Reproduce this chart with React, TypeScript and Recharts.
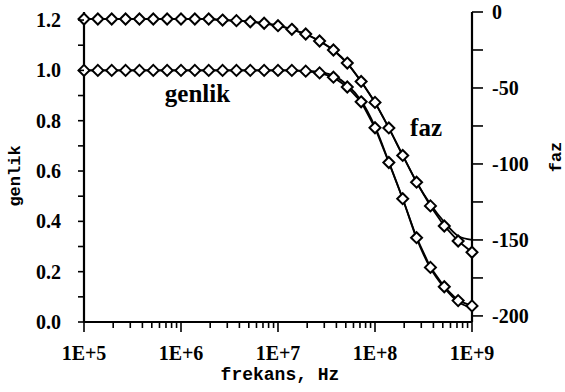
import { LineChart, Line, XAxis, YAxis, ReferenceDot } from 'recharts';

// frekans noktaları (Hz), her on katta 7 nokta
const frekans = [
  1.0e5, 1.389e5, 1.931e5, 2.683e5, 3.728e5, 5.179e5, 7.197e5,
  1.0e6, 1.389e6, 1.931e6, 2.683e6, 3.728e6, 5.179e6, 7.197e6,
  1.0e7, 1.389e7, 1.931e7, 2.683e7, 3.728e7, 5.179e7, 7.197e7,
  1.0e8, 1.389e8, 1.931e8, 2.683e8, 3.728e8, 5.179e8, 7.197e8,
  1.0e9,
];

// ölçülen genlik
const genlikOlcum = [
  1.0, 1.0, 1.0, 1.0, 1.0, 1.0, 1.0,
  1.0, 1.0, 1.0, 1.0, 1.0, 1.0, 1.0,
  1.0, 1.0, 0.997, 0.99, 0.973, 0.934, 0.875,
  0.772, 0.634, 0.49, 0.335, 0.217, 0.14, 0.085,
  0.064,
];

// teorik genlik
const genlikTeori = [
  1.0, 1.0, 1.0, 1.0, 1.0, 1.0, 1.0,
  1.0, 1.0, 1.0, 1.0, 1.0, 1.0, 1.0,
  1.0, 1.0, 0.998, 0.993, 0.979, 0.942, 0.88,
  0.776, 0.636, 0.49, 0.333, 0.214, 0.136, 0.08,
  0.056,
];

// ölçülen faz (derece)
const fazOlcum = [
  -4.6, -4.6, -4.6, -4.6, -4.6, -4.6, -4.6,
  -4.6, -4.6, -4.6, -5.3, -5.7, -6.4, -7.4,
  -9.0, -11.4, -14.5, -19.1, -25, -33.6, -45.7,
  -59.5, -76.3, -94.4, -112, -127.6, -140.8, -150.7,
  -158.1,
];

// teorik faz
const fazTeori = [
  -4.6, -4.6, -4.6, -4.6, -4.6, -4.6, -4.6,
  -4.6, -4.6, -4.6, -5.3, -5.7, -6.4, -7.4,
  -9.0, -11.4, -14.5, -19.1, -25, -33.6, -45.7,
  -59.5, -76.3, -94.4, -112, -126.5, -138.2, -147.4,
  -150,
];

const xAnaTikler = [1e5, 1e6, 1e7, 1e8, 1e9];
const xAnaEtiketler = ['1E+5', '1E+6', '1E+7', '1E+8', '1E+9'];
const araCarpanlar = [2, 3, 4, 5, 6, 7, 8, 9];

const solTikler = [0, 0.1, 0.2, 0.3, 0.4, 0.5, 0.6, 0.7, 0.8, 0.9, 1.0, 1.1, 1.2];
const solEtiketler = ['0.0', '0.2', '0.4', '0.6', '0.8', '1.0', '1.2'];
const sagTikler = [-200, -175, -150, -125, -100, -75, -50, -25, 0];

const data = frekans.map((f, i) => ({
  f,
  g: genlikOlcum[i],
  gT: genlikTeori[i],
  p: fazOlcum[i],
  pT: fazTeori[i],
}));

const xTikler = [
  ...xAnaTikler,
  ...xAnaTikler.slice(0, -1).flatMap((d) => araCarpanlar.map((m) => d * m)),
].sort((a, b) => a - b);

const serif = '"Liberation Serif", "Times New Roman", serif';
const mono = '"Liberation Mono", "Courier New", monospace';

const Diamond = (props: any) => {
  const { cx, cy } = props;
  if (cx == null || cy == null) return null;
  const r = 5.5;
  return (
    <path
      d={`M${cx},${cy - r} L${cx + r},${cy} L${cx},${cy + r} L${cx - r},${cy} Z`}
      fill="#fff"
      stroke="#000"
      strokeWidth={2}
    />
  );
};

const XTick = (props: any) => {
  const { x, y, payload } = props;
  const idx = xAnaTikler.indexOf(payload.value);
  const major = idx >= 0;
  return (
    <g>
      <line x1={x} x2={x} y1={y} y2={y + (major ? 10 : 6)} stroke="#000" strokeWidth={1.6} />
      {major && (
        <text x={x} y={y + 38} textAnchor="middle" fontFamily={serif} fontWeight="bold" fontSize={20} fill="#000">
          {xAnaEtiketler[idx]}
        </text>
      )}
    </g>
  );
};

const SolTick = (props: any) => {
  const { x, y, payload } = props;
  const k = Math.round(payload.value * 10);
  const major = k % 2 === 0;
  return (
    <g>
      <line x1={x} x2={x - 6} y1={y} y2={y} stroke="#000" strokeWidth={1.6} />
      {major && (
        <text x={x - 23} y={y + 7} textAnchor="end" fontFamily={serif} fontWeight="bold" fontSize={20} fill="#000">
          {solEtiketler[k / 2]}
        </text>
      )}
    </g>
  );
};

const SagTick = (props: any) => {
  const { x, y, payload } = props;
  const major = payload.value % 50 === 0;
  return (
    <g>
      <line x1={x} x2={x + 11} y1={y} y2={y} stroke="#000" strokeWidth={1.6} />
      {major && (
        <text x={x + 20} y={y + 7} textAnchor="start" fontFamily={serif} fontWeight="bold" fontSize={20} fill="#000">
          {payload.value}
        </text>
      )}
    </g>
  );
};

export default function App() {
  return (
    <div style={{ position: 'absolute', left: 0, top: 0, background: '#fff' }}>
      <LineChart width={565} height={392} data={data} margin={{ top: 12, right: 0, bottom: 0, left: 0 }}>
        <XAxis
          dataKey="f"
          type="number"
          scale="log"
          domain={[1e5, 1e9]}
          ticks={xTikler}
          interval={0}
          height={70}
          tickSize={0}
          tickMargin={0}
          tickLine={false}
          tick={<XTick />}
          axisLine={{ stroke: '#000', strokeWidth: 2.2 }}
          label={() => (
            <text x={280} y={380} textAnchor="middle" fontFamily={mono} fontWeight="bold" fontSize={18} fill="#000">
              frekans, Hz
            </text>
          )}
        />
        <YAxis
          yAxisId="left"
          orientation="left"
          type="number"
          domain={[0, 1.232]}
          ticks={solTikler}
          interval={0}
          width={84}
          tickSize={0}
          tickMargin={0}
          tickLine={false}
          tick={<SolTick />}
          axisLine={{ stroke: '#000', strokeWidth: 2.2 }}
          label={() => (
            <text x={15} y={176} transform="rotate(-90 15 176)" textAnchor="middle" dominantBaseline="central" fontFamily={mono} fontWeight="bold" fontSize={17} fill="#000">
              genlik
            </text>
          )}
        />
        <YAxis
          yAxisId="right"
          orientation="right"
          type="number"
          domain={[-204, 0]}
          ticks={sagTikler}
          interval={0}
          width={93}
          tickSize={0}
          tickMargin={0}
          tickLine={false}
          tick={<SagTick />}
          axisLine={{ stroke: '#000', strokeWidth: 2.2 }}
          label={() => (
            <text x={556} y={157} transform="rotate(-90 556 157)" textAnchor="middle" dominantBaseline="central" fontFamily={mono} fontWeight="bold" fontSize={17} fill="#000">
              faz
            </text>
          )}
        />
        <Line yAxisId="left" dataKey="gT" type="monotone" stroke="#000" strokeWidth={1.8} dot={false} isAnimationActive={false} />
        <Line yAxisId="left" dataKey="g" type="linear" stroke="#000" strokeWidth={1.8} dot={<Diamond />} isAnimationActive={false} />
        <Line yAxisId="right" dataKey="pT" type="monotone" stroke="#000" strokeWidth={1.8} dot={false} isAnimationActive={false} />
        <Line yAxisId="right" dataKey="p" type="linear" stroke="#000" strokeWidth={1.8} dot={<Diamond />} isAnimationActive={false} />
        <ReferenceDot
          yAxisId="left"
          x={1.48e6}
          y={0.91}
          r={0}
          fill="none"
          stroke="none"
          label={{ value: 'genlik', position: 'center', fill: '#000', fontSize: 25, fontWeight: 'bold', fontFamily: serif }}
        />
        <ReferenceDot
          yAxisId="left"
          x={3.36e8}
          y={0.775}
          r={0}
          fill="none"
          stroke="none"
          label={{ value: 'faz', position: 'center', fill: '#000', fontSize: 25, fontWeight: 'bold', fontFamily: serif }}
        />
      </LineChart>
    </div>
  );
}
